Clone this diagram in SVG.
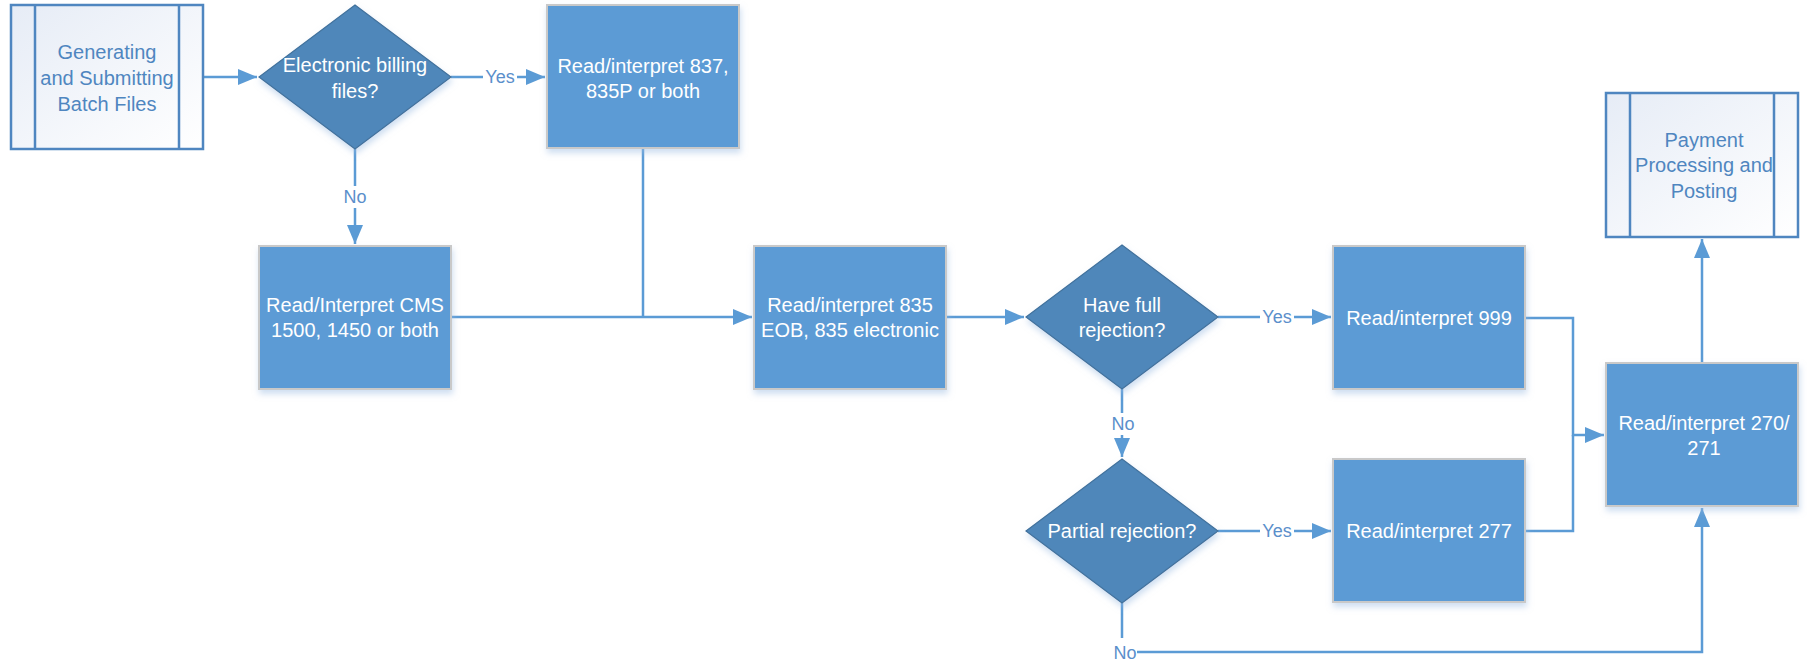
<svg xmlns="http://www.w3.org/2000/svg" width="1807" height="665" viewBox="0 0 1807 665">
<style>
.box{fill:#5B9BD5;stroke:#C9C9C9;stroke-width:2;filter:url(#sh)}
.dia{fill:#4F87BA;stroke:#41719C;stroke-width:1.2;filter:url(#sh)}
.pp{fill:url(#ppg);stroke:#4F86C0;stroke-width:2.5}
.ppl{stroke:#4F86C0;stroke-width:2.5}
.t{font-family:"Liberation Sans",Arial,sans-serif;font-size:20px;fill:#FFFFFF;text-anchor:middle;dominant-baseline:central}
.tp{font-family:"Liberation Sans",Arial,sans-serif;font-size:20px;fill:#4F86C0;text-anchor:middle;dominant-baseline:central}
.lbl{font-family:"Liberation Sans",Arial,sans-serif;font-size:18px;fill:#5B8FCB;text-anchor:middle;dominant-baseline:central}
.c{fill:none;stroke:#5B9BD5;stroke-width:2.5}
.bg{fill:#FFFFFF}
</style>
<defs>
<linearGradient id="ppg" x1="0" y1="0" x2="1" y2="1">
<stop offset="0" stop-color="#E6ECF6"/>
<stop offset="1" stop-color="#FFFFFF"/>
</linearGradient>
<filter id="sh" x="-20%" y="-20%" width="140%" height="150%">
<feDropShadow dx="1" dy="4" stdDeviation="3" flood-color="#9DBDE3" flood-opacity="0.5"/>
</filter>
<marker id="ah" markerWidth="20" markerHeight="16" refX="19" refY="8" orient="auto" markerUnits="userSpaceOnUse">
<path d="M0,0 L19,8 L0,16 Z" fill="#5B9BD5"/>
</marker>
</defs>

<g id="connectors">
<path class="c" d="M203,77 H257" marker-end="url(#ah)"/>
<path class="c" d="M451,77 H545" marker-end="url(#ah)"/>
<path class="c" d="M355,149 V244" marker-end="url(#ah)"/>
<path class="c" d="M643,148 V317"/>
<path class="c" d="M451,317 H752" marker-end="url(#ah)"/>
<path class="c" d="M946,317 H1024" marker-end="url(#ah)"/>
<path class="c" d="M1218,317 H1331" marker-end="url(#ah)"/>
<path class="c" d="M1122,389 V457" marker-end="url(#ah)"/>
<path class="c" d="M1218,531 H1331" marker-end="url(#ah)"/>
<path class="c" d="M1122,603 V652 H1702 V508" marker-end="url(#ah)"/>
<path class="c" d="M1525,318 H1573 V435 H1604" marker-end="url(#ah)"/>
<path class="c" d="M1525,531 H1573 V435"/>
<path class="c" d="M1702,363 V239" marker-end="url(#ah)"/>
<rect class="bg" x="483" y="66" width="34" height="22"/>
<text class="lbl" x="500" y="77">Yes</text>
<rect class="bg" x="343" y="186" width="26" height="22"/>
<text class="lbl" x="355" y="197">No</text>
<rect class="bg" x="1260" y="306" width="34" height="22"/>
<text class="lbl" x="1277" y="317">Yes</text>
<rect class="bg" x="1110" y="413" width="26" height="22"/>
<text class="lbl" x="1123" y="424">No</text>
<rect class="bg" x="1260" y="520" width="34" height="22"/>
<text class="lbl" x="1277" y="531">Yes</text>
<rect class="bg" x="1112" y="638" width="25" height="26"/>
<text class="lbl" x="1125" y="653">No</text>
</g>

<g id="gen">
<rect class="pp" x="11" y="5" width="192" height="144"/>
<line class="ppl" x1="35" y1="5" x2="35" y2="149"/>
<line class="ppl" x1="179" y1="5" x2="179" y2="149"/>
<text class="tp" x="107" y="52">Generating</text>
<text class="tp" x="107" y="78">and Submitting</text>
<text class="tp" x="107" y="104">Batch Files</text>
</g>

<g id="d1">
<polygon class="dia" points="355,5 451,77 355,149 259,77"/>
<text class="t" x="355" y="65">Electronic billing</text>
<text class="t" x="355" y="91">files?</text>
</g>

<g id="b837">
<rect class="box" x="547" y="5" width="192" height="143"/>
<text class="t" x="643" y="66">Read/interpret 837,</text>
<text class="t" x="643" y="91">835P or both</text>
</g>

<g id="bCMS">
<rect class="box" x="259" y="246" width="192" height="143"/>
<text class="t" x="355" y="305">Read/Interpret CMS</text>
<text class="t" x="355" y="330">1500, 1450 or both</text>
</g>

<g id="bEOB">
<rect class="box" x="754" y="246" width="192" height="143"/>
<text class="t" x="850" y="305">Read/interpret 835</text>
<text class="t" x="850" y="330">EOB, 835 electronic</text>
</g>

<g id="d2">
<polygon class="dia" points="1122,245 1218,317 1122,389 1026,317"/>
<text class="t" x="1122" y="305">Have full</text>
<text class="t" x="1122" y="330">rejection?</text>
</g>

<g id="b999">
<rect class="box" x="1333" y="246" width="192" height="143"/>
<text class="t" x="1429" y="318">Read/interpret 999</text>
</g>

<g id="d3">
<polygon class="dia" points="1122,459 1218,531 1122,603 1026,531"/>
<text class="t" x="1122" y="531">Partial rejection?</text>
</g>

<g id="b277">
<rect class="box" x="1333" y="459" width="192" height="143"/>
<text class="t" x="1429" y="531">Read/interpret 277</text>
</g>

<g id="b270">
<rect class="box" x="1606" y="363" width="192" height="143"/>
<text class="t" x="1704" y="423">Read/interpret 270/</text>
<text class="t" x="1704" y="448">271</text>
</g>

<g id="pay">
<rect class="pp" x="1606" y="93" width="192" height="144"/>
<line class="ppl" x1="1630" y1="93" x2="1630" y2="237"/>
<line class="ppl" x1="1774" y1="93" x2="1774" y2="237"/>
<text class="tp" x="1704" y="140">Payment</text>
<text class="tp" x="1704" y="165">Processing and</text>
<text class="tp" x="1704" y="191">Posting</text>
</g>
</svg>
